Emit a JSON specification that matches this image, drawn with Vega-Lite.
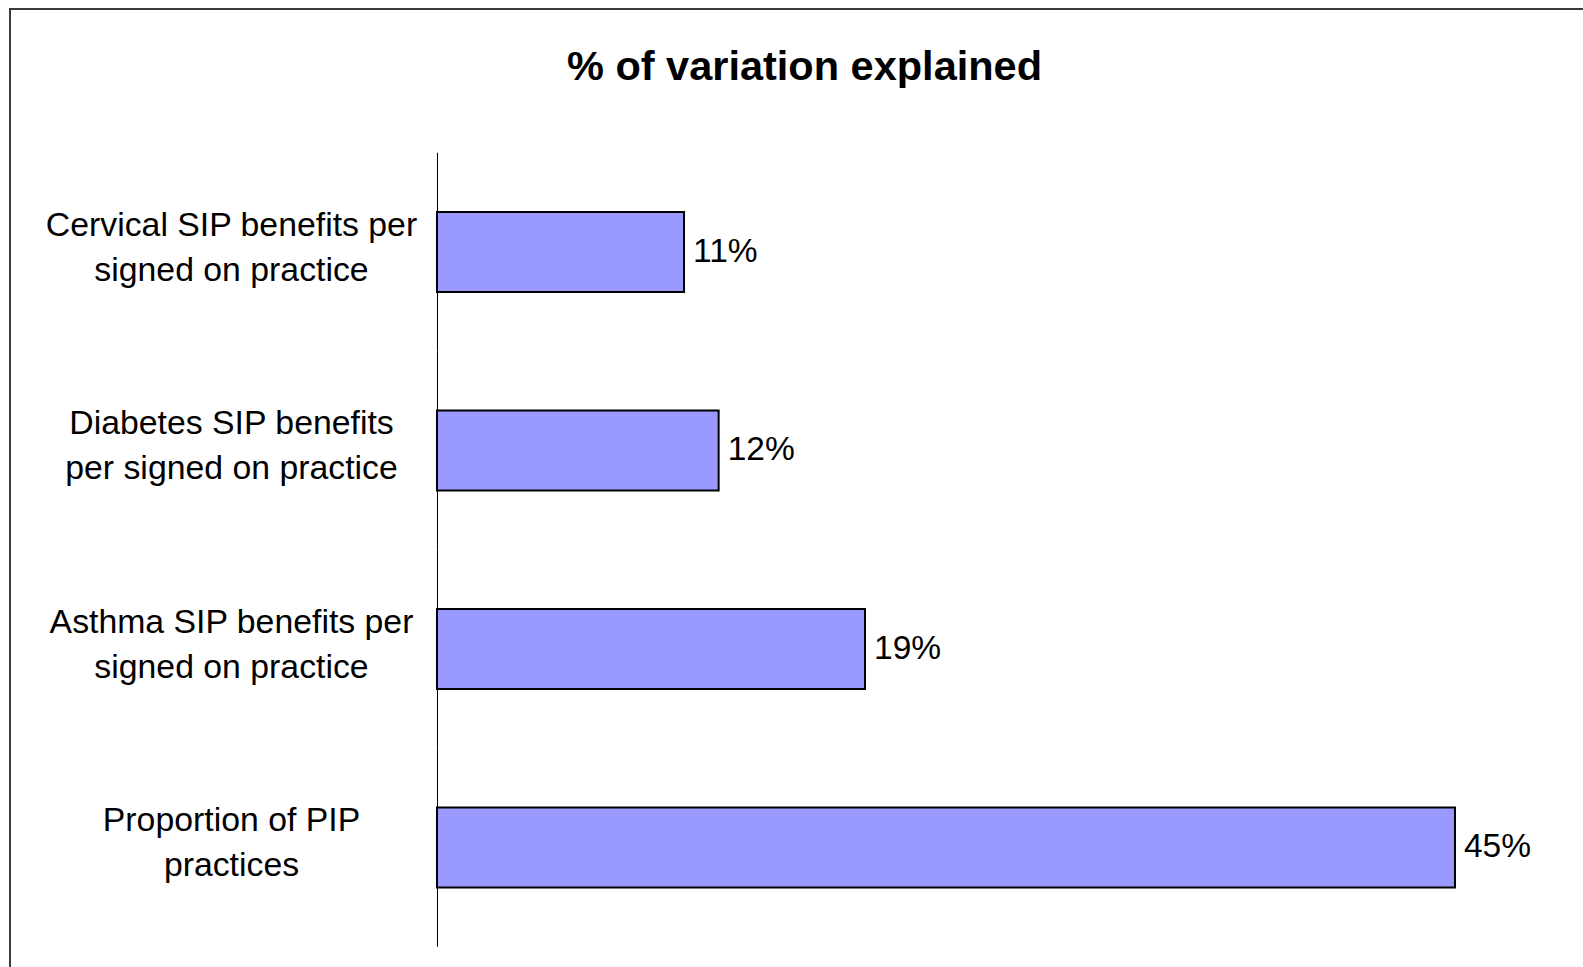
{
  "$schema": "https://vega.github.io/schema/vega-lite/v6.json",
  "autosize": {"type": "none"},
  "padding": {"left": 10, "top": 9, "right": -2, "bottom": -2},
  "width": 1575,
  "height": 960,
  "background": "white",
  "title": {
    "text": "% of variation explained",
    "font": "Liberation Sans",
    "fontSize": 41.5,
    "fontWeight": "bold",
    "color": "black",
    "anchor": "middle",
    "dx": 7,
    "offset": -79
  },
  "config": {
    "view": {"stroke": "#3a3a3a", "strokeWidth": 2},
    "font": "Liberation Sans"
  },
  "data": {
    "values": [
      {"cat": "Cervical SIP benefits per\nsigned on practice", "value": 0.1092},
      {"cat": "Diabetes SIP benefits\nper signed on practice", "value": 0.1245},
      {"cat": "Asthma SIP benefits per\nsigned on practice", "value": 0.1892},
      {"cat": "Proportion of PIP\npractices", "value": 0.45}
    ]
  },
  "encoding": {
    "y": {
      "field": "cat",
      "type": "nominal",
      "sort": null,
      "scale": {"paddingInner": 0.597, "paddingOuter": 0.7166, "align": 0.7135},
      "axis": {
        "title": null,
        "domain": false,
        "ticks": false,
        "tickSize": 0,
        "offset": -427,
        "labelAlign": "center",
        "labelBaseline": "middle",
        "labelPadding": 206,
        "labelOffset": -26,
        "labelFont": "Liberation Sans",
        "labelFontSize": 33.8,
        "labelLineHeight": 45,
        "labelColor": "black",
        "labelLimit": 800,
        "labelExpr": "split(datum.value, '\\n')"
      }
    }
  },
  "layer": [
    {
      "mark": {"type": "bar", "fill": "#9999FF", "stroke": "black", "strokeWidth": 2},
      "encoding": {
        "x": {
          "field": "value",
          "type": "quantitative",
          "scale": {"domain": [-0.18875, 0.50747], "nice": false, "zero": false},
          "axis": null
        },
        "x2": {"datum": 0}
      }
    },
    {
      "mark": {"type": "text", "align": "left", "baseline": "middle", "dx": 9, "fontSize": 33.5, "color": "black", "font": "Liberation Sans"},
      "encoding": {
        "x": {"field": "value", "type": "quantitative"},
        "text": {"field": "value", "format": ".0%"}
      }
    },
    {
      "mark": {"type": "rule", "color": "black", "strokeWidth": 1, "xOffset": 0.5},
      "encoding": {
        "x": {"datum": 0},
        "y": {"field": "cat", "type": "nominal", "sort": null, "bandPosition": -0.7406},
        "y2": {"field": "cat", "bandPosition": 1.7406}
      }
    }
  ]
}
